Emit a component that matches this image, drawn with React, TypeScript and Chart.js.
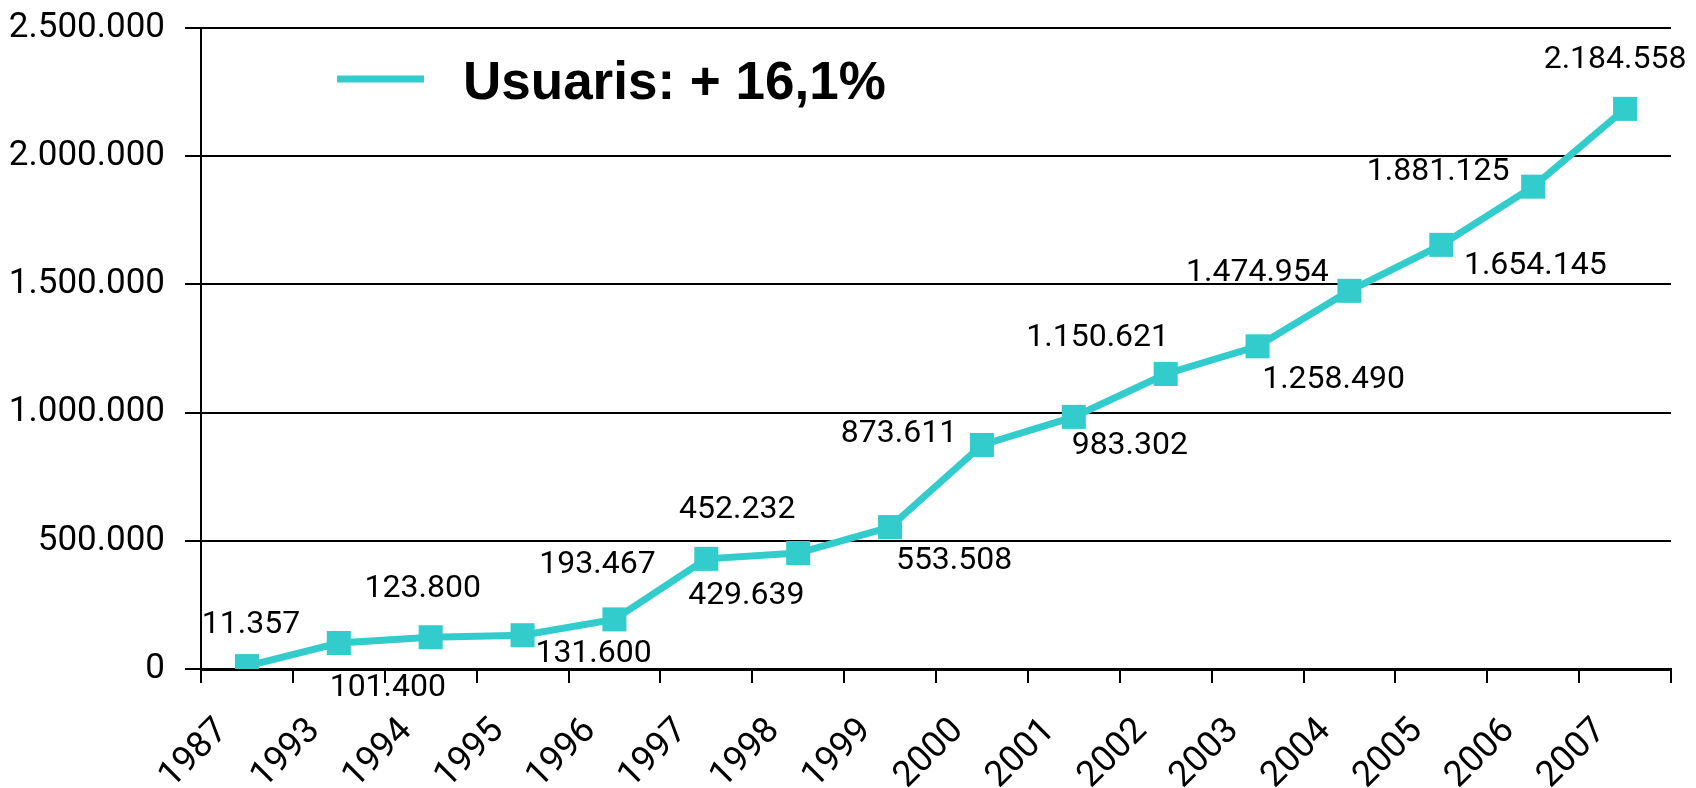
import React, { useEffect, useRef } from "react";
import { Chart, registerables } from "chart.js";

Chart.register(...registerables);

const categories = ["1987", "1993", "1994", "1995", "1996", "1997", "1998", "1999", "2000", "2001", "2002", "2003", "2004", "2005", "2006", "2007"];
const usuaris = [11357, 101400, 123800, 131600, 193467, 429639, 452232, 553508, 873611, 983302, 1150621, 1258490, 1474954, 1654145, 1881125, 2184558];
const seriesLabel = "Usuaris: + 16,1%";
const yMin = 0;
const yMax = 2500000;
const yStep = 500000;
// label offsets (px) relative to each point, as placed in the reference
const labelOffsets: [number, number][] = [
  [4, -41], [49, 45], [-8, -48], [71, 19], [-17, -54], [40, 37], [-61, -43], [64, 34],
  [-83, -11], [56, 29], [-68, -36], [76, 34], [-92, -18], [94, 21], [-95, -15], [-10, -49],
];

const TEAL = "#33CCCC";

function fmt(n: number): string {
  return Math.round(n).toString().replace(/\B(?=(\d{3})+(?!\d))/g, ".");
}

const dataLabelPlugin = {
  id: "dataLabels",
  afterDatasetsDraw(chart: any) {
    const ctx = chart.ctx;
    const meta = chart.getDatasetMeta(0);
    ctx.save();
    ctx.fillStyle = "#000";
    ctx.font = "32px Roboto";
    ctx.textAlign = "center";
    ctx.textBaseline = "middle";
    meta.data.forEach((pt: any, i: number) => {
      const off = labelOffsets[i] || [0, -40];
      ctx.fillText(fmt(usuaris[i]), pt.x + off[0], pt.y + off[1]);
    });
    ctx.restore();
  },
};

const legendPlugin = {
  id: "innerLegend",
  afterDraw(chart: any) {
    const ctx = chart.ctx;
    ctx.save();
    ctx.strokeStyle = TEAL;
    ctx.lineWidth = 7;
    ctx.beginPath();
    ctx.moveTo(337, 79);
    ctx.lineTo(424, 79);
    ctx.stroke();
    ctx.fillStyle = "#000";
    ctx.font = "bold 53px 'Liberation Sans', Arial, sans-serif";
    ctx.textAlign = "left";
    ctx.textBaseline = "alphabetic";
    ctx.fillText(chart.data.datasets[0].label, 463, 99);
    ctx.restore();
  },
};

export default function App() {
  const canvasRef = useRef<HTMLCanvasElement | null>(null);

  useEffect(() => {
    if (!canvasRef.current) return;
    const chart = new Chart(canvasRef.current, {
      type: "line",
      data: {
        labels: categories,
        datasets: [
          {
            label: seriesLabel,
            data: usuaris,
            borderColor: TEAL,
            backgroundColor: TEAL,
            borderWidth: 7,
            pointStyle: "rect",
            pointRadius: 17,
            pointBorderWidth: 0,
            pointBackgroundColor: TEAL,
            tension: 0,
          },
        ],
      },
      options: {
        responsive: false,
        animation: false,
        layout: { padding: { top: 28, right: 25, bottom: 0, left: 0 } },
        plugins: {
          legend: { display: false },
          tooltip: { enabled: false },
        },
        scales: {
          x: {
            offset: true,
            grid: {
              offset: true,
              drawOnChartArea: false,
              drawTicks: true,
              tickLength: 14,
              color: "#000",
              lineWidth: 2,
            },
            border: { display: true, color: "#000", width: 3 },
            ticks: {
              color: "#000",
              font: { family: "'Liberation Sans Narrow', 'Arial Narrow', Roboto, sans-serif", size: 36 },
              minRotation: 45,
              maxRotation: 45,
              autoSkip: false,
              padding: 27,
              labelOffset: -24,
            },
            afterFit(scale: any) {
              scale.height = 119;
              scale.paddingLeft = 0;
              scale.paddingRight = 0;
            },
          },
          y: {
            min: yMin,
            max: yMax,
            grid: {
              color: "#000",
              lineWidth: 2,
              tickLength: 16,
              drawTicks: true,
            },
            border: { display: true, color: "#000", width: 2 },
            ticks: {
              stepSize: yStep,
              color: "#000",
              font: { family: "Roboto", size: 35 },
              padding: 20,
              callback: (v: any) => fmt(Number(v)),
            },
            afterFit(scale: any) {
              scale.width = 201;
              scale.paddingTop = 0;
              scale.paddingBottom = 0;
            },
          },
        },
      },
      plugins: [dataLabelPlugin, legendPlugin],
    });
    return () => chart.destroy();
  }, []);

  return (
    <div style={{ position: "absolute", left: 0, top: 0, width: 1696, height: 788, background: "#fff" }}>
      <canvas ref={canvasRef} width={1696} height={788} style={{ display: "block" }} />
    </div>
  );
}
